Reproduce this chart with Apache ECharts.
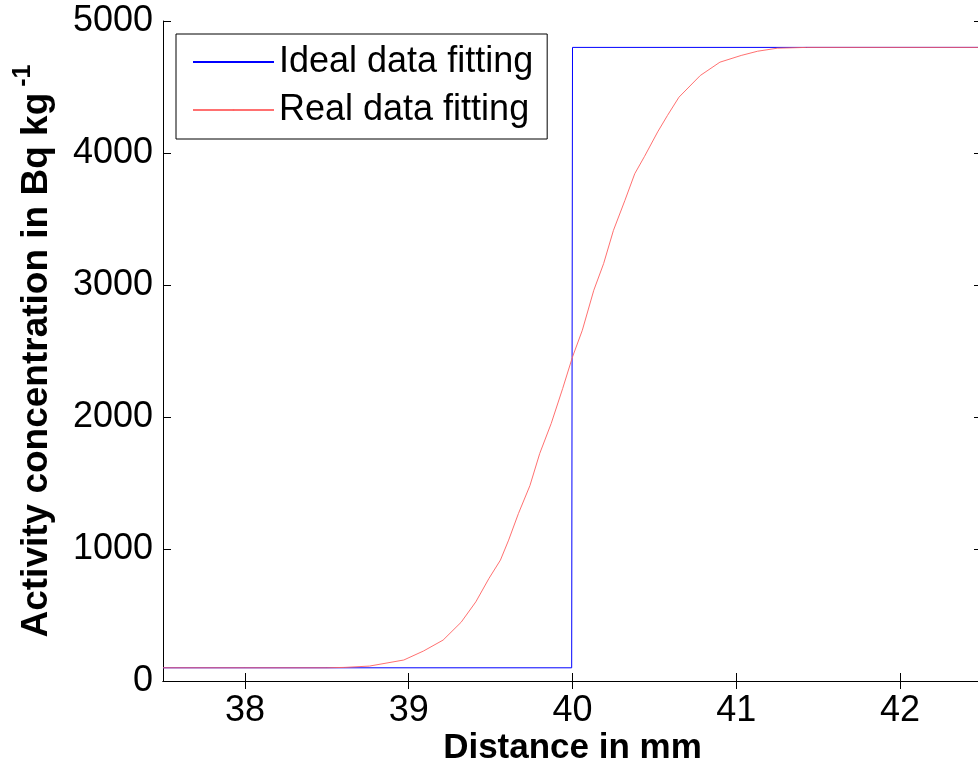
<!DOCTYPE html>
<html>
<head>
<meta charset="utf-8">
<script src="https://cdn.jsdelivr.net/npm/echarts@6/dist/echarts.min.js"></script>
<style>html,body{margin:0;padding:0;background:#fff}#c{width:978px;height:771px}</style>
</head>
<body>
<div id="c"></div>
<script>
// Data
const xTicks = [38, 39, 40, 41, 42];
const yTicks = [0, 1000, 2000, 3000, 4000, 5000];
const idealX = [37.5, 39.995, 40.0, 42.5];
const idealY = [100, 100, 4800, 4800];
const realX = [37.5, 38.0, 38.5, 38.61, 38.76, 38.97, 39.09, 39.21, 39.32, 39.41, 39.49, 39.56, 39.61, 39.67, 39.74, 39.80, 39.87, 39.94, 40.00, 40.06, 40.13, 40.19, 40.25, 40.32, 40.38, 40.44, 40.52, 40.58, 40.65, 40.78, 40.90, 41.03, 41.13, 41.25, 41.43, 42.5];
const realY = [100, 100, 100, 103, 113, 159, 227, 310, 445, 600, 777, 916, 1067, 1269, 1480, 1724, 1951, 2216, 2455, 2657, 2960, 3162, 3414, 3641, 3843, 3975, 4160, 4285, 4423, 4587, 4688, 4739, 4771, 4794, 4800, 4800];
const seriesNames = ['Ideal data fitting', 'Real data fitting'];
const xTitle = 'Distance in mm';
const yTitle = 'Activity concentration in Bq kg';
const ySup = '-1';

const zip = (a, b) => a.map((v, i) => [v, b[i]]);
const font = '"Liberation Sans", Arial, sans-serif';

const chart = echarts.init(document.getElementById('c'), null, {renderer: 'canvas'});
const tickStyle = {show: true, inside: true, length: 8, lineStyle: {color: '#000', width: 1}};
chart.setOption({
  animation: false,
  backgroundColor: '#fff',
  grid: {left: 163, top: 21, width: 819, height: 660, containLabel: false, outerBoundsMode: 'none'},
  legend: {
    orient: 'vertical', left: 176, top: 34,
    data: seriesNames,
    itemWidth: 81, itemHeight: 2, itemGap: 8,
    padding: [8, 14, 9, 16],
    borderColor: '#000', borderWidth: 1, backgroundColor: '#fff',
    textStyle: {fontSize: 36, fontFamily: font, color: '#000', lineHeight: 40}
  },
  xAxis: [{
    type: 'value', min: 37.5, max: 42.5, position: 'bottom',
    name: xTitle, nameLocation: 'middle', nameGap: 50, nameMoveOverlap: false,
    nameTextStyle: {fontSize: 35, fontWeight: 'bold', fontFamily: font, color: '#000'},
    axisLine: {show: true, lineStyle: {color: '#000', width: 1}},
    axisTick: Object.assign({customValues: xTicks}, tickStyle),
    axisLabel: {customValues: xTicks, fontSize: 36, fontFamily: font, color: '#000', margin: 12},
    splitLine: {show: false}
  }, {
    type: 'value', min: 37.5, max: 42.5, position: 'top',
    axisLine: {show: true, lineStyle: {color: '#000', width: 1}},
    axisTick: Object.assign({customValues: xTicks}, tickStyle),
    axisLabel: {show: false},
    splitLine: {show: false}
  }],
  yAxis: [{
    type: 'value', min: 0, max: 5000, interval: 1000, position: 'left',
    name: '{t|' + yTitle + '}{s|' + ySup + '}',
    nameLocation: 'middle', nameGap: 100, nameRotate: 90, nameMoveOverlap: false,
    nameTextStyle: {
      fontFamily: font, color: '#000',
      rich: {
        t: {fontSize: 37, fontWeight: 'bold', fontFamily: font, color: '#000', lineHeight: 52},
        s: {fontSize: 25, fontWeight: 'bold', fontFamily: font, color: '#000', verticalAlign: 'top', lineHeight: 24, padding: [0, 0, 0, 6]}
      }
    },
    axisLine: {show: true, lineStyle: {color: '#000', width: 1}},
    axisTick: tickStyle,
    axisLabel: {fontSize: 36, fontFamily: font, color: '#000', margin: 10, formatter: v => String(v)},
    splitLine: {show: false}
  }, {
    type: 'value', min: 0, max: 5000, interval: 1000, position: 'right',
    axisLine: {show: true, lineStyle: {color: '#000', width: 1}},
    axisTick: tickStyle,
    axisLabel: {show: false},
    splitLine: {show: false}
  }],
  series: [{
    name: seriesNames[0], type: 'line', data: zip(idealX, idealY),
    showSymbol: false, symbol: 'none',
    lineStyle: {color: '#0000ff', width: 1}, itemStyle: {color: '#0000ff'}
  }, {
    name: seriesNames[1], type: 'line', data: zip(realX, realY),
    showSymbol: false, symbol: 'none',
    lineStyle: {color: '#ff6060', width: 1, opacity: 0.9}, itemStyle: {color: '#ff6060'}
  }]
});
</script>
</body>
</html>
